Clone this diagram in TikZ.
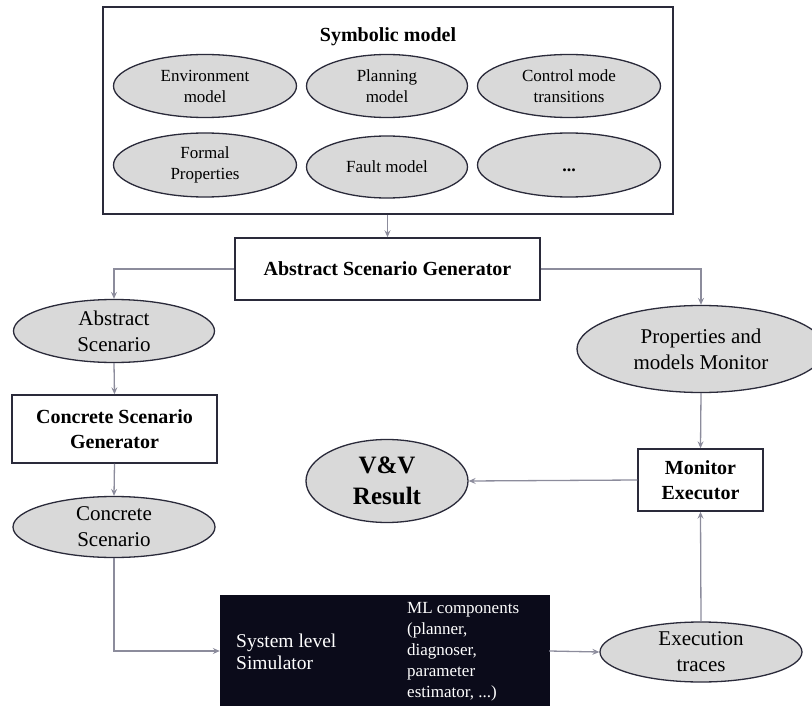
\documentclass[tikz,border=0pt]{standalone}
\usepackage{fontspec}
\setmainfont{Liberation Serif}
\usetikzlibrary{shapes.geometric,arrows.meta,positioning}
\definecolor{edgec}{HTML}{2A2A3A}
\definecolor{arrc}{HTML}{8C8C9C}
\definecolor{fillc}{HTML}{D9D9D9}
\definecolor{darkbox}{HTML}{0B0B1A}
\tikzset{
  ell/.style={ellipse, draw=edgec, line width=1.3pt, fill=fillc, inner sep=0pt, align=center, font=\fontsize{17}{21}\selectfont},
  bigell/.style={ell, font=\fontsize{21}{26}\selectfont},
  boxn/.style={rectangle, draw=edgec, line width=1.5pt, fill=white, inner sep=0pt, align=center, font=\bfseries\fontsize{20}{25}\selectfont},
  conn/.style={draw=arrc, line width=1.3pt, -{Stealth[length=7pt,width=6pt,inset=2.5pt]}},
}
\begin{document}
\begin{tikzpicture}[x=1pt,y=-1pt]
\useasboundingbox (0,0) rectangle (812,706);
\clip (0,0) rectangle (812,706);
% Symbolic model container
\node[rectangle, draw=edgec, line width=1.5pt, minimum width=570pt, minimum height=207pt, inner sep=0pt] (sym) at (388,110.5) {};
\node[font=\bfseries\fontsize{20}{24}\selectfont] (symtitle) at (388,37) {Symbolic model};
\node[ell, minimum width=183pt, minimum height=63pt] (env) at (205,86) {Environment\\model};
\node[ell, minimum width=161pt, minimum height=63pt] (plan) at (387,86) {Planning\\model};
\node[ell, minimum width=183pt, minimum height=63pt] (ctrl) at (569,86) {Control mode\\transitions};
\node[ell, minimum width=183pt, minimum height=64pt] (formal) at (205,165) {Formal\\Properties};
\node[ell, minimum width=161pt, minimum height=62pt] (fault) at (387,167) {Fault model};
\node[ell, minimum width=183pt, minimum height=64pt] (dots) at (569,165) {\smash{\raisebox{-6pt}{\bfseries\fontsize{18}{21}\selectfont ...}}};
% Generators and scenarios
\node[boxn, minimum width=305pt, minimum height=62pt] (asg) at (387.5,269) {Abstract Scenario Generator};
\node[bigell, minimum width=201pt, minimum height=63pt] (abs) at (114,331) {Abstract\\Scenario};
\node[boxn, minimum width=205pt, minimum height=68pt] (csg) at (114.5,429) {Concrete Scenario\\Generator};
\node[bigell, minimum width=202pt, minimum height=61pt] (conc) at (114,527) {Concrete\\Scenario};
\node[bigell, minimum width=248pt, minimum height=87pt] (props) at (701,349) {Properties and\\models Monitor};
\node[boxn, minimum width=125pt, minimum height=62pt] (monex) at (700.5,480) {Monitor\\Executor};
\node[ell, minimum width=162pt, minimum height=83pt, font=\bfseries\fontsize{25}{31}\selectfont] (vv) at (387,481) {V\&V\\Result};
\node[bigell, minimum width=202pt, minimum height=60pt] (exec) at (701,652) {Execution\\traces};
% Simulator
\node[rectangle, fill=darkbox, draw=darkbox, minimum width=329pt, minimum height=112pt, inner sep=0pt] (sim) at (384.5,651) {};
\node[anchor=west, text=white, align=left, inner sep=0pt, font=\fontsize{19.5}{22}\selectfont] (simtext) at (236,652) {System level\\Simulator};
\node[anchor=west, text=white, align=left, inner sep=0pt, font=\fontsize{17}{21}\selectfont] (mltext) at (407,652) {ML components\\(planner,\\diagnoser,\\parameter\\estimator, ...)};
% Connectors
\draw[conn] (sym.south -| asg.north) -- (asg.north);
\draw[conn] (asg.west) -| (abs.north);
\draw[conn] (asg.east) -| (props.north);
\draw[conn] (abs.south) -- (csg.north);
\draw[conn] (csg.south) -- (conc.north);
\draw[conn] (conc.south) |- (sim.west);
\draw[conn] (sim.east) -- (exec.west);
\draw[conn] (exec.north) -- (monex.south);
\draw[conn] (props.south) -- (monex.north);
\draw[conn] (monex.west) -- (vv.east);
\end{tikzpicture}
\end{document}
